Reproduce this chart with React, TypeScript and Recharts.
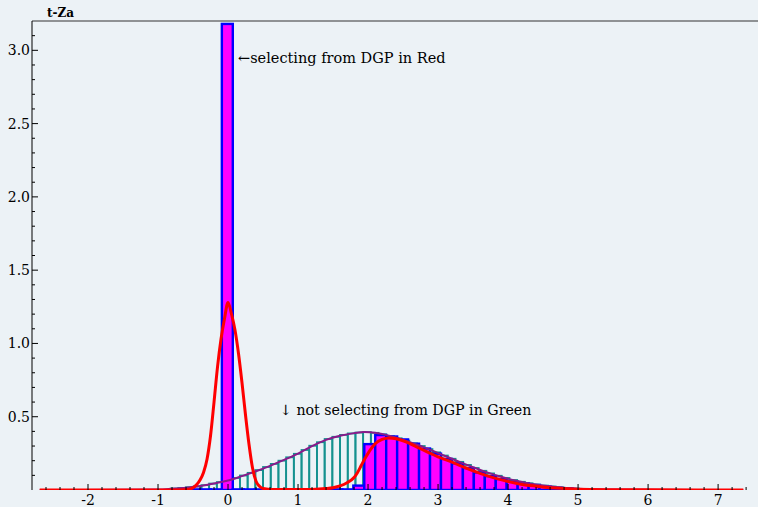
import { ComposedChart, Bar, Line, XAxis, YAxis, ReferenceLine } from "recharts";

// green histogram (not selecting from DGP), bins of 0.11
const greenBinStart = -0.765;
const greenBinWidth = 0.11;
const greenValues = [
  0.01, 0.014, 0.019, 0.025, 0.033, 0.044, 0.054, 0.066, 0.082, 0.099,
  0.117, 0.136, 0.157, 0.178, 0.2, 0.223, 0.247, 0.273, 0.302, 0.326,
  0.348, 0.363, 0.376, 0.386, 0.392, 0.395, 0.39, 0.38, 0.368, 0.353,
  0.337, 0.318, 0.3, 0.279, 0.257, 0.235, 0.213, 0.192, 0.171, 0.15,
  0.131, 0.113, 0.097, 0.082, 0.068, 0.056, 0.046, 0.037, 0.03, 0.024,
  0.018, 0.014, 0.01,
];

// magenta histogram (selecting from DGP), bins of 0.1565
const magBinStart = -0.636;
const magBinWidth = 0.1565;
const magValues = [
  0.004, 0.004, 0.004, 0.004, 3.18, 0.004, 0.004, 0.004, 0.004, 0.004,
  0.004, 0.004, 0.004, 0.004, 0.004, 0.004, 0.03, 0.313, 0.375, 0.365,
  0.345, 0.316, 0.283, 0.248, 0.212, 0.182, 0.15, 0.12, 0.095, 0.075,
  0.057, 0.045, 0.034, 0.023, 0.015, 0.01,
];

// red density curve
const redX = [
  -2.69, -1.0, -0.6, -0.5, -0.45, -0.4, -0.35, -0.3, -0.25, -0.2, -0.15, -0.1, -0.05, 0,
  0.05, 0.1, 0.15, 0.2, 0.25, 0.3, 0.35, 0.4, 0.45, 0.5, 0.6, 0.8, 1.0, 1.2, 1.4, 1.5,
  1.6, 1.7, 1.8, 1.85, 1.9, 1.95, 2.0, 2.05, 2.1, 2.2, 2.3, 2.4, 2.5, 2.6, 2.7, 2.8,
  2.9, 3.0, 3.2, 3.4, 3.6, 3.8, 4.0, 4.2, 4.4, 4.6, 4.8, 5.0, 5.5, 6.0, 7.36,
];
const redY = [
  0, 0, 0.002, 0.015, 0.035, 0.068, 0.12, 0.21, 0.37, 0.6, 0.84, 1.03, 1.17, 1.28,
  1.2, 1.09, 0.93, 0.73, 0.51, 0.31, 0.15, 0.06, 0.025, 0.01, 0.004, 0.003, 0.003, 0.004, 0.01, 0.016,
  0.028, 0.05, 0.085, 0.12, 0.165, 0.21, 0.25, 0.285, 0.315, 0.345, 0.355, 0.35, 0.336, 0.316, 0.293, 0.27,
  0.248, 0.226, 0.19, 0.15, 0.114, 0.083, 0.058, 0.038, 0.026, 0.016, 0.01, 0.005, 0.002, 0.001, 0,
];

// purple density curve
const purpleX = [
  -2.69, -1.0, -0.8, -0.6, -0.4, -0.2, 0, 0.2, 0.4, 0.6, 0.8, 1.0, 1.2, 1.4, 1.6, 1.8,
  1.95, 2.1, 2.3, 2.5, 2.7, 2.9, 3.1, 3.3, 3.5, 3.7, 3.9, 4.1, 4.3, 4.5, 4.7, 5.0, 5.5, 6.0, 7.36,
];
const purpleY = [
  0, 0.004, 0.009, 0.016, 0.027, 0.045, 0.065, 0.095, 0.128, 0.165, 0.205, 0.248, 0.3, 0.342, 0.37, 0.388,
  0.395, 0.39, 0.37, 0.342, 0.31, 0.272, 0.232, 0.193, 0.155, 0.12, 0.09, 0.065, 0.045, 0.03, 0.019, 0.009, 0.003, 0.001, 0,
];

const xMajor = [-2, -1, 0, 1, 2, 3, 4, 5, 6, 7];
const xTicks = Array.from({ length: 51 }, (_, i) => Math.round((-2.6 + 0.2 * i) * 10) / 10);
const yMajor = [0.5, 1.0, 1.5, 2.0, 2.5, 3.0];
const yTicks = Array.from({ length: 31 }, (_, i) => Math.round((0.1 + 0.1 * i) * 10) / 10);

// merge everything into one table keyed by x
const rows = new Map<string, any>();
const put = (x: number, key: string, v: number) => {
  const k = x.toFixed(4);
  if (!rows.has(k)) rows.set(k, { x: +k });
  rows.get(k)[key] = v;
};
greenValues.forEach((v, i) => put(greenBinStart + i * greenBinWidth, "green", v));
magValues.forEach((v, i) => put(magBinStart + i * magBinWidth, "mag", v));
redX.forEach((x, i) => put(x, "red", redY[i]));
purpleX.forEach((x, i) => put(x, "purple", purpleY[i]));
const data = Array.from(rows.values()).sort((a, b) => a.x - b.x);

const SERIF = "DejaVu Serif";
const BG = "#ecf2f6";

// layout
const W = 758;
const H = 507;
const Y_AXIS_W = 32;
const X_AXIS_H = 17;
const AXIS_X = Y_AXIS_W;
const AXIS_Y = H - X_AXIS_H;

const makeShape = (key: string, w: number, fill: string, stroke: string, sw: number) => (p: any) => {
  if (p.payload?.[key] == null || !isFinite(p.x) || !isFinite(p.height) || !isFinite(p.width)) return <g />;
  const cx = p.x + p.width / 2;
  return <rect x={cx - w / 2} y={p.y} width={w} height={p.height} fill={fill} stroke={stroke} strokeWidth={sw} />;
};
const GreenBar = makeShape("green", 7.7, "none", "#14918f", 1.8);
const MagBar = makeShape("mag", 10.95, "#ff00ff", "#0000ff", 2.4);

const XTick = (p: any) => {
  const v = p.payload.value;
  const cx = p.payload.coordinate ?? p.x;
  const major = xMajor.some((m) => Math.abs(m - v) < 1e-6);
  return (
    <g>
      <line x1={cx} x2={cx} y1={AXIS_Y} y2={AXIS_Y - (major ? 6 : 3)} stroke="#000" />
      {major && (
        <text x={cx} y={AXIS_Y + 15} textAnchor="middle" fontSize={14} fontFamily={SERIF} fill="#000">
          {String(v)}
        </text>
      )}
    </g>
  );
};

const YTick = (p: any) => {
  const v = p.payload.value;
  const cy = p.payload.coordinate ?? p.y;
  const major = yMajor.some((m) => Math.abs(m - v) < 1e-6);
  return (
    <g>
      <line x1={AXIS_X} x2={AXIS_X + (major ? 6 : 3)} y1={cy} y2={cy} stroke="#000" />
      {major && (
        <text x={AXIS_X - 2} y={cy + 5} textAnchor="end" fontSize={14} fontFamily={SERIF} fill="#000">
          {v.toFixed(1)}
        </text>
      )}
    </g>
  );
};

export default function App() {
  return (
    <div style={{ position: "absolute", left: 0, top: 0, width: W, height: H, background: BG }}>
      <ComposedChart width={W} height={H} data={data} margin={{ top: 21, right: 0, bottom: 0, left: 0 }}>
        <XAxis
          xAxisId="main"
          type="number"
          dataKey="x"
          domain={[-2.8, 7.57]}
          ticks={xTicks}
          interval={0}
          tick={<XTick />}
          tickLine={false}
          height={X_AXIS_H}
          axisLine={{ stroke: "#000" }}
          allowDataOverflow
        />
        <XAxis xAxisId="g" type="number" dataKey="x" domain={[-2.8, 7.57]} hide allowDataOverflow />
        <XAxis xAxisId="m" type="number" dataKey="x" domain={[-2.8, 7.57]} hide allowDataOverflow />
        <YAxis
          type="number"
          domain={[0, 3.2]}
          ticks={yTicks}
          interval={0}
          width={Y_AXIS_W}
          tick={<YTick />}
          tickLine={false}
          axisLine={{ stroke: "#000" }}
          allowDataOverflow
        />
        <ReferenceLine xAxisId="main" y={3.2} stroke="#333" />
        <Bar xAxisId="g" dataKey="green" barSize={8} shape={GreenBar} isAnimationActive={false} />
        <Line
          xAxisId="main"
          dataKey="purple"
          type="monotone"
          stroke="#8a1a8a"
          strokeWidth={2}
          dot={false}
          connectNulls
          isAnimationActive={false}
        />
        <Bar xAxisId="m" dataKey="mag" barSize={11} shape={MagBar} isAnimationActive={false} />
        <Line
          xAxisId="main"
          dataKey="red"
          type="monotone"
          stroke="#ff0000"
          strokeWidth={3}
          dot={false}
          connectNulls
          isAnimationActive={false}
        />
      </ComposedChart>
      <svg width={W} height={H} style={{ position: "absolute", left: 0, top: 0, pointerEvents: "none" }}>
        <text x={47} y={17} fontSize={12} fontWeight="bold" fontFamily={SERIF} fill="#000">
          t-Za
        </text>
        <text x={238} y={63} fontSize={14.5} fontFamily={SERIF} fill="#000">
          ←selecting from DGP in Red
        </text>
        <text x={280} y={415} fontSize={14.2} fontFamily={SERIF} fill="#000">
          ↓ not selecting from DGP in Green
        </text>
      </svg>
    </div>
  );
}
